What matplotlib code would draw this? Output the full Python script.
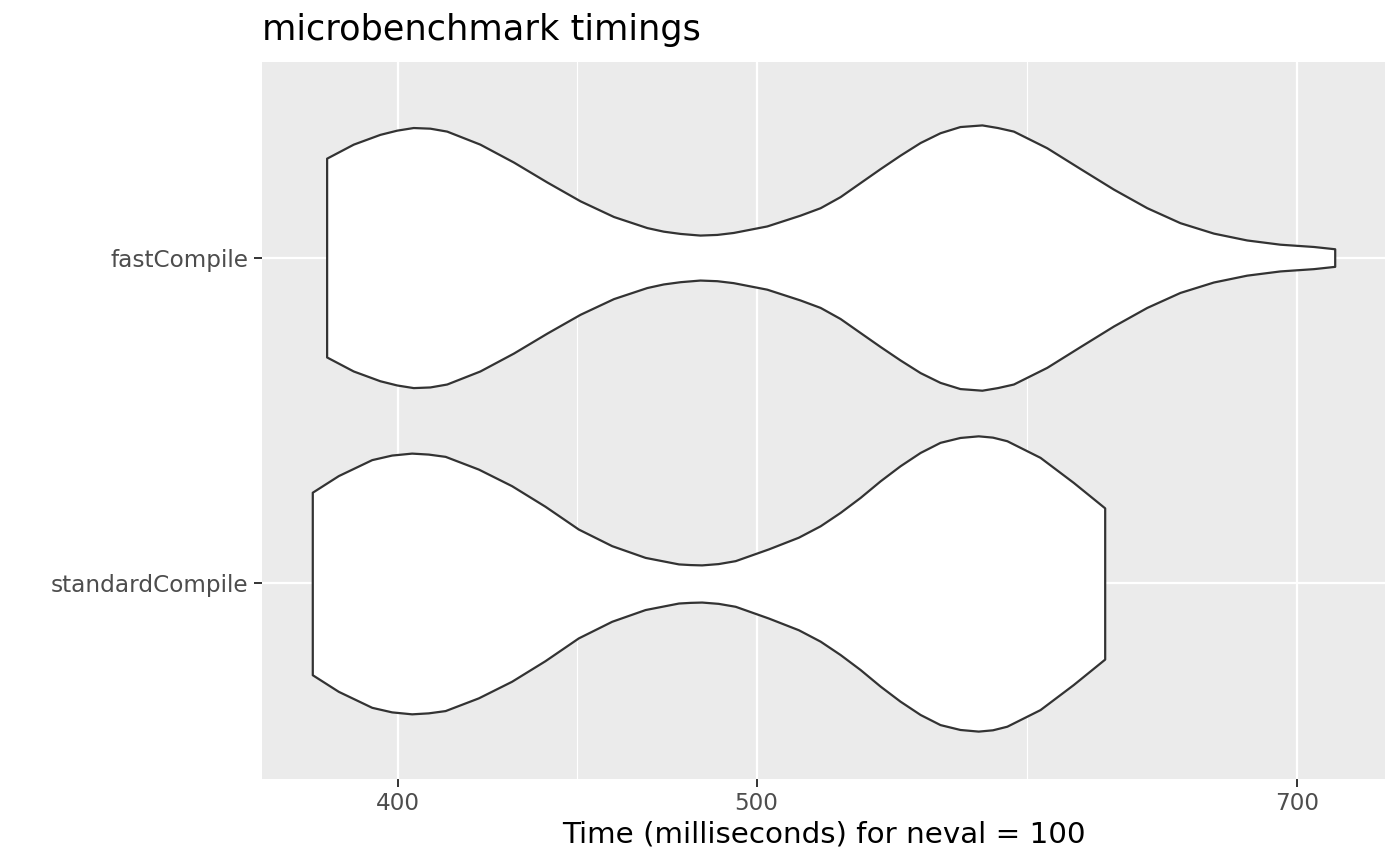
# PYTHON PACKAGES

import matplotlib
matplotlib.use("Agg")
import matplotlib.pyplot as plt
from matplotlib.ticker import FixedLocator, NullFormatter

# DATA (violin outlines: time in ms, half width in category units)

categories = ["standardCompile", "fastCompile"]

fast_time = [382.6, 389.0, 395.5, 399.7, 403.8, 408.0, 412.3, 420.9, 429.8, 438.8,
             448.0, 457.4, 467.0, 471.8, 476.8, 482.7, 487.8, 492.8, 503.2, 513.7,
             520.2, 526.7, 533.3, 540.0, 546.7, 553.6, 560.5, 567.5, 575.3, 580.9,
             586.7, 599.0, 611.6, 624.4, 637.5, 650.8, 664.5, 678.4, 692.6, 707.2,
             716.6]
fast_width = [0.305, 0.348, 0.378, 0.391, 0.399, 0.397, 0.388, 0.348, 0.293, 0.232,
              0.174, 0.126, 0.092, 0.081, 0.074, 0.069, 0.071, 0.077, 0.097, 0.130,
              0.153, 0.187, 0.230, 0.273, 0.314, 0.353, 0.383, 0.402, 0.407, 0.399,
              0.388, 0.337, 0.273, 0.210, 0.153, 0.107, 0.075, 0.054, 0.041, 0.034,
              0.027]

standard_time = [379.2, 385.4, 393.5, 398.4, 403.4, 407.6, 411.9, 420.5, 429.3, 438.3,
                 447.5, 456.9, 466.5, 476.3, 479.7, 483.2, 488.2, 493.4, 503.7, 513.2,
                 520.2, 526.7, 533.3, 540.0, 546.7, 553.6, 560.5, 567.5, 574.0, 579.1,
                 584.3, 596.5, 609.0, 621.0]
standard_width = [0.280, 0.331, 0.380, 0.394, 0.400, 0.397, 0.390, 0.351, 0.300, 0.237,
                  0.167, 0.116, 0.080, 0.060, 0.058, 0.057, 0.061, 0.070, 0.106, 0.142,
                  0.177, 0.218, 0.264, 0.315, 0.361, 0.402, 0.433, 0.448, 0.453, 0.449,
                  0.438, 0.387, 0.310, 0.232]

x_major = [400, 500, 700]
x_minor = [447.2, 591.6]

# TO CREATE VIOLIN_PLOT

def violin_plot():

    fig = plt.figure(figsize=(14, 8.65), dpi=100)
    ax = fig.add_axes([0.1871, 0.0994, 0.8022, 0.8289])
    ax.set_facecolor("#EBEBEB")

    outlines = [(standard_time, standard_width), (fast_time, fast_width)]
    for pos, (t, w) in enumerate(outlines, start=1):
        low = [pos - v for v in w]
        high = [pos + v for v in w]
        ax.fill_between(t, low, high, facecolor="white", edgecolor="#333333",
                        linewidth=1.6, joinstyle="round", zorder=3)

    ax.set_xscale("log")
    ax.set_xlim(367.5, 739.4)
    ax.set_ylim(0.4, 2.6)

    ax.xaxis.set_major_locator(FixedLocator(x_major))
    ax.xaxis.set_minor_locator(FixedLocator(x_minor))
    ax.xaxis.set_minor_formatter(NullFormatter())
    ax.set_xticklabels([str(v) for v in x_major])
    ax.set_yticks([1, 2])
    ax.set_yticklabels(categories)

    ax.grid(True, which="major", color="white", linewidth=1.6, zorder=0)
    ax.grid(True, which="minor", axis="x", color="white", linewidth=0.8, zorder=0)
    ax.set_axisbelow(True)

    for side in ax.spines.values():
        side.set_visible(False)

    ax.tick_params(axis="both", which="major", length=5.5, width=1.4,
                   color="#333333", labelcolor="#4D4D4D", labelsize=16.7, pad=4)
    ax.tick_params(axis="x", which="minor", length=0)

    ax.set_title("microbenchmark timings", loc="left", fontsize=25.3, pad=16)
    ax.set_xlabel("Time (milliseconds) for neval = 100", fontsize=21.2, labelpad=4)

    fig.savefig("out.png", dpi=100)

violin_plot()
